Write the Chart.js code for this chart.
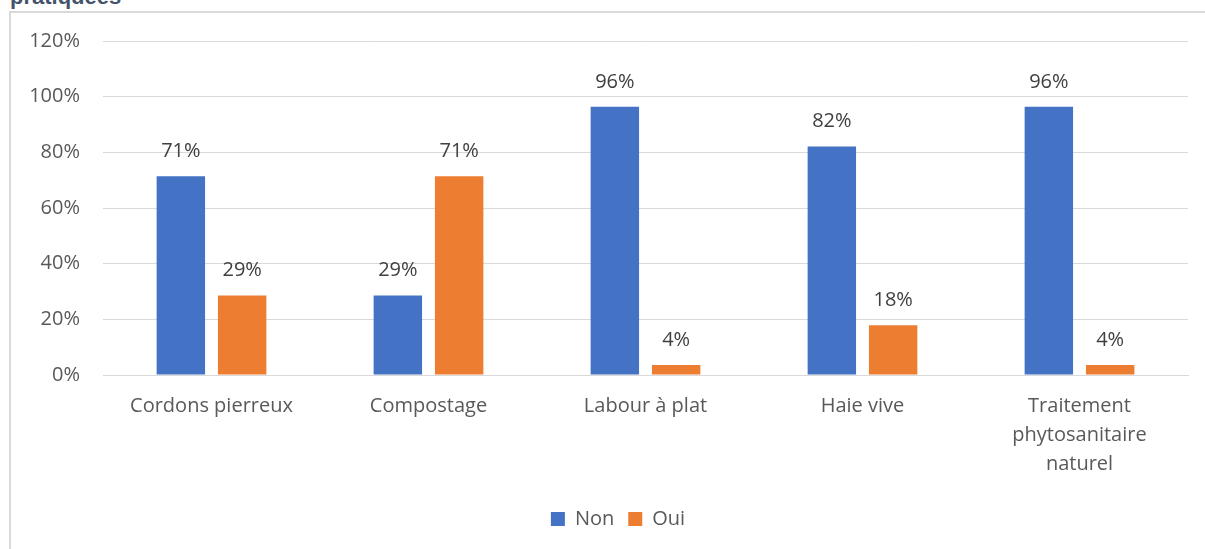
<!DOCTYPE html>
<html>
<head>
<meta charset="utf-8">
<script src="https://cdn.jsdelivr.net/npm/chart.js@4.4.0/dist/chart.umd.min.js"></script>
<style>
html,body{margin:0;padding:0;background:#fff;overflow:hidden;}
#wrap{position:relative;width:1205px;height:549px;}
#frameTop{position:absolute;left:10px;top:11px;width:1195px;height:0;border-top:2px solid #d9d9d9;}
#frameLeft{position:absolute;left:9px;top:11px;width:0;height:538px;border-left:2px solid #d9d9d9;}
#title{position:absolute;left:10px;top:-16px;font-family:"Liberation Sans",Arial,sans-serif;font-weight:bold;font-size:22px;color:#44546A;white-space:nowrap;}
canvas{position:absolute;left:0;top:0;}
</style>
</head>
<body>
<div id="wrap">
<div id="title">pratiquées</div>
<div id="frameTop"></div>
<div id="frameLeft"></div>
<canvas id="c" width="1205" height="549"></canvas>
</div>
<script>
const categories = ["Cordons pierreux", "Compostage", "Labour à plat", "Haie vive", ["Traitement", "phytosanitaire", "naturel"]];
const nonValues = [71.4, 28.6, 96.4, 82.1, 96.4];
const ouiValues = [28.6, 71.4, 3.6, 17.9, 3.6];
const yTicks = [0, 20, 40, 60, 80, 100, 120];

const FONT = "'Open Sans', 'Noto Sans', sans-serif";

const labelPlugin = {
  id: 'valueLabels',
  afterDatasetsDraw(chart) {
    const ctx = chart.ctx;
    ctx.save();
    ctx.font = "20px " + FONT;
    ctx.fillStyle = '#404040';
    ctx.textAlign = 'center';
    ctx.textBaseline = 'alphabetic';
    chart.data.datasets.forEach((ds, i) => {
      const meta = chart.getDatasetMeta(i);
      meta.data.forEach((bar, j) => {
        ctx.fillText(Math.round(ds.data[j]) + '%', bar.x, bar.y - 19);
      });
    });
    ctx.restore();
  }
};

const legendShift = {
  id: 'legendShift',
  afterLayout(chart) {
    if (chart.legend) { chart.legend.left += 48; }
  }
};

new Chart(document.getElementById('c'), {
  type: 'bar',
  data: {
    labels: categories,
    datasets: [
      { label: 'Non', data: nonValues, backgroundColor: '#4472C4' },
      { label: 'Oui', data: ouiValues, backgroundColor: '#ED7D31' }
    ]
  },
  options: {
    responsive: false,
    animation: false,
    devicePixelRatio: 1,
    layout: { padding: { left: 0, right: 17, top: 41, bottom: 10 } },
    datasets: { bar: { categoryPercentage: 0.565, barPercentage: 0.79 } },
    scales: {
      y: {
        min: 0, max: 120,
        afterBuildTicks(scale) { scale.ticks = yTicks.map(v => ({ value: v })); },
        afterFit(scale) { scale.width = 103; },
        grid: { color: '#d9d9d9', lineWidth: 1, drawTicks: false },
        border: { display: false },
        ticks: {
          padding: 23,
          color: '#595959',
          font: { family: FONT, size: 20 },
          callback: v => v + '%'
        }
      },
      x: {
        afterFit(scale) { scale.height = 120; },
        grid: { display: false, drawTicks: false },
        border: { display: true, color: '#d9d9d9', width: 1 },
        ticks: {
          padding: 17,
          color: '#595959',
          maxRotation: 0,
          autoSkip: false,
          font: { family: FONT, size: 20, lineHeight: 1.45 }
        }
      }
    },
    plugins: {
      legend: {
        position: 'bottom',
        labels: {
          boxWidth: 14, boxHeight: 14, padding: 14,
          color: '#595959',
          font: { family: FONT, size: 20 }
        }
      },
      tooltip: { enabled: false }
    }
  },
  plugins: [labelPlugin, legendShift]
});
</script>
</body>
</html>
